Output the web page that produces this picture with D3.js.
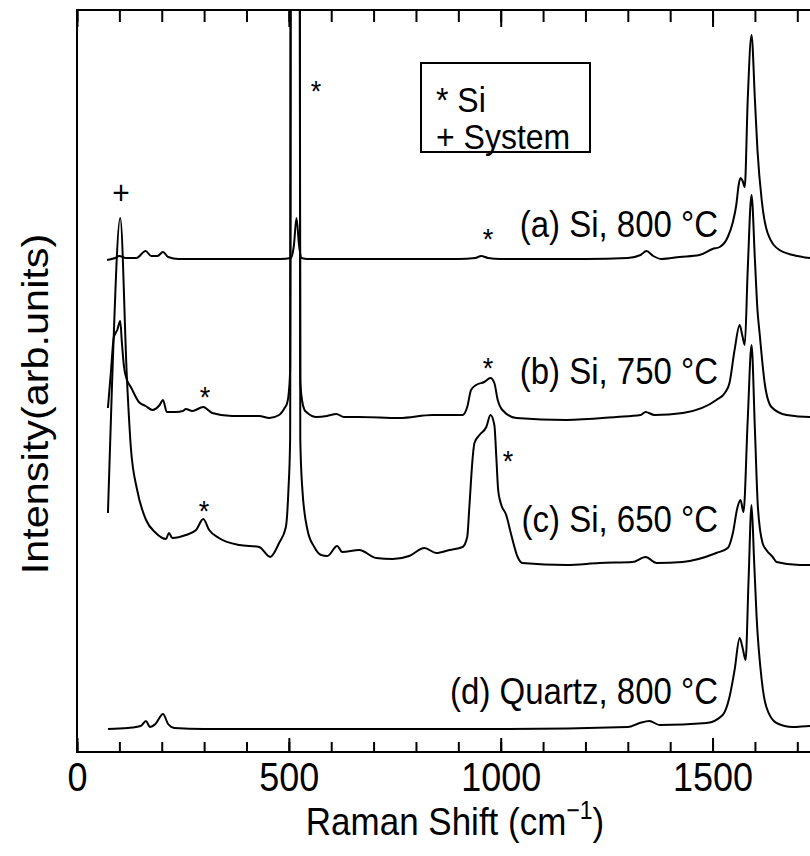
<!DOCTYPE html>
<html><head><meta charset="utf-8">
<script src="https://cdn.jsdelivr.net/npm/d3@7"></script>
<style>
body{margin:0;background:#fff}
text{font-family:"Liberation Sans",Arial,Helvetica,sans-serif;fill:#000}
</style>
</head><body>
<svg id="chart" width="810" height="856"></svg>
<script>
// ---- data (Raman shift in cm^-1, intensity in arb. units, stacked offsets included) ----
const shiftA = [71,90,100,115,140,162,175,190,203,215,240,300,400,480,505,512,518,524,530,545,600,700,800,900,940,954,970,1000,1100,1200,1300,1330,1344,1360,1380,1422,1469,1500,1517,1536,1548,1556,1562,1566,1571,1576,1583,1592,1600,1606,1616,1630,1658,1700,1730,1800];
const intensityA = [492,494,496,494,494,501,496,496,500,495,493,493,493,493,494,507,534,507,494,493,493,493,493,493,494,496,494,493,493,493,494,497,501,496,493,495,497,503,505,515,530,547,568,574,571,565,652,717,652,602,552,519,502,496,494,494];

const shiftB = [73,80,87,95,102,106,111,118,127,146,162,178,195,203,212,233,250,257,272,298,319,366,430,454,477,490,496,500,503,506,524,527,531,537,544,565,590,612,630,666,761,839,910,921,930,942,961,976,985,993,1004,1037,1155,1273,1330,1342,1363,1430,1509,1529,1540,1552,1564,1570,1576,1583,1592,1600,1606,1611,1623,1639,1675,1730,1800];
const intensityB = [344,380,415,422,431,409,385,372,365,350,346,342,347,352,340,340,341,343,341,345,339,336,336,334,337,344,349,360,382,1500,1500,372,352,342,339,335,336,338,335,335,334,337,337,345,362,367,370,374,369,352,342,334,332,335,337,340,337,339,352,359,369,402,427,417,407,482,557,492,442,419,369,345,337,335,335];

const shiftC = [73,83,102,118,127,142,163,186,210,217,225,257,281,298,312,335,383,430,456,477,493,499,503,506,524,527,532,544,560,576,591,614,626,666,706,745,784,820,848,879,910,921,926,934,938,950,966,976,985,990,994,1000,1013,1025,1040,1051,1155,1233,1311,1342,1368,1429,1509,1536,1548,1559,1566,1573,1583,1592,1600,1607,1618,1627,1642,1651,1706,1800];
const intensityC = [239,372,534,372,305,262,232,219,213,219,214,217,222,233,222,214,207,205,195,209,225,262,312,1500,1500,312,262,222,205,197,196,206,200,202,194,193,196,204,199,202,205,215,245,295,309,317,325,337,327,292,262,249,237,217,195,189,187,189,190,195,189,190,199,204,219,245,252,240,332,407,322,245,209,202,195,190,187,187];

const shiftD = [73,120,150,163,172,185,203,215,230,300,600,1000,1300,1328,1351,1375,1486,1524,1540,1552,1564,1571,1578,1585,1592,1598,1604,1616,1627,1651,1689,1730,1800];
const intensityD = [23,24,26,31,25,28,38,28,24,23,23,23,25,29,31,27,29,37,55,82,114,104,92,172,247,192,135,72,45,29,25,26,26];

const seriesNames = ["(a) Si, 800 °C","(b) Si, 750 °C","(c) Si, 650 °C","(d) Quartz, 800 °C"];
const xTickValues = [0,500,1000,1500];
const xTickLabels = ["0","500","1000","1500"];
const legendItems = ["* Si","+ System"];
// peak markers: symbol, shift, intensity
const markSymbols = ["+","*","*","*","*","*","*"];
const markShift = [104,564,970,302,970,1017,300];
const markIntensity = [559,667,519,361,390,297,247];
const labelIntensity = [527,380,232,60];

// ---- layout ----
const svg = d3.select("#chart");
const plotLeft = 77, plotTop = 10, plotBottom = 752;
const K = 1.12; // vertical stretch of lettering
const x = d3.scaleLinear().domain([0,1800]).range([plotLeft, plotLeft + 1800*0.4237]);
const y = d3.scaleLinear().domain([0,742]).range([plotBottom, plotTop]);

svg.append("defs").append("clipPath").attr("id","clip")
  .append("rect").attr("x",plotLeft).attr("y",plotTop).attr("width",x(1800)-plotLeft).attr("height",plotBottom-plotTop);

const line = d3.line().x(d=>x(d[0])).y(d=>y(d[1])).curve(d3.curveMonotoneX);
const series = [[shiftA,intensityA],[shiftB,intensityB],[shiftC,intensityC],[shiftD,intensityD]];
const g = svg.append("g").attr("clip-path","url(#clip)");
series.forEach(([xs,ys])=>{
  g.append("path").datum(xs.map((v,i)=>[v,ys[i]]))
    .attr("d",line).attr("fill","none").attr("stroke","#000")
    .attr("stroke-width",2).attr("stroke-linejoin","round");
});

// frame
svg.append("rect").attr("x",plotLeft).attr("y",plotTop).attr("width",x(1800)-plotLeft).attr("height",plotBottom-plotTop)
  .attr("fill","none").attr("stroke","#000").attr("stroke-width",2);

const minorTicks = d3.range(0,1801,100);
function styleAxis(sel){ sel.select(".domain").remove(); sel.selectAll("line").attr("stroke","#000").attr("stroke-width",2); }
svg.append("g").attr("transform",`translate(0,${plotBottom})`)
  .call(d3.axisBottom(x).tickValues(minorTicks).tickSize(-10).tickFormat(""))
  .call(styleAxis);
svg.append("g").attr("transform",`translate(0,${plotBottom})`)
  .call(d3.axisBottom(x).tickValues(xTickValues).tickSize(-14).tickPadding(9).tickFormat((d,i)=>xTickLabels[i]))
  .call(styleAxis)
  .selectAll("text").attr("font-size",36).attr("transform",`scale(1,${K})`)
  .style("font-family","Liberation Sans, Arial, sans-serif");
svg.append("g").attr("transform",`translate(0,${plotTop})`)
  .call(d3.axisTop(x).tickValues(minorTicks).tickSize(-12).tickFormat(""))
  .call(styleAxis);
svg.append("g").attr("transform",`translate(0,${plotTop})`)
  .call(d3.axisTop(x).tickValues(xTickValues).tickSize(-17).tickFormat(""))
  .call(styleAxis);

// text helper with vertical stretch
function stretchedText(px, py, str, size, anchor){
  return svg.append("text").attr("transform",`translate(${px},${py}) scale(1,${K})`)
    .attr("text-anchor",anchor||"start").attr("font-size",size).text(str);
}

// axis titles
const xt = svg.append("text").attr("transform",`translate(455,835) scale(1,${K})`).attr("text-anchor","middle").attr("font-size",35);
xt.append("tspan").text("Raman Shift (cm");
xt.append("tspan").attr("dy",-14).attr("font-size",23).text("\u22121");
xt.append("tspan").attr("dy",14).text(")");
svg.append("text").attr("transform",`translate(48,404) rotate(-90) scale(${K},1)`).attr("text-anchor","middle")
  .attr("font-size",37).text("Intensity(arb.units)");

// series labels
seriesNames.forEach((s,i)=>{
  stretchedText(x(1513), y(labelIntensity[i]) + 12, s, 33, "end");
});

// peak markers
markSymbols.forEach((s,i)=>{
  stretchedText(x(markShift[i]), y(markIntensity[i]) + (s==="*" ? 16 : 11), s, s==="*" ? 27 : 30, "middle");
});

// legend
svg.append("rect").attr("x",421).attr("y",63).attr("width",169).attr("height",89)
  .attr("fill","#fff").attr("stroke","#000").attr("stroke-width",2);
legendItems.forEach((s,i)=>{
  stretchedText(436, 112+i*37, s, 32, "start");
});
</script>
</body></html>
